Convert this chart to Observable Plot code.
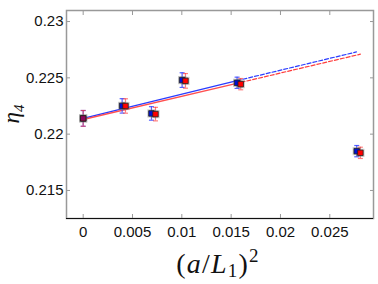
<!DOCTYPE html>
<html>
<head>
<meta charset="utf-8">
<script src="https://cdn.jsdelivr.net/npm/d3@7"></script>
<script src="https://cdn.jsdelivr.net/npm/@observablehq/plot@0.6"></script>
<style>
  html, body { margin: 0; padding: 0; background: #fff; }
  #chart svg { display: block; }
</style>
</head>
<body>
<div id="chart"></div>
<script>
// Data
const xBlue = [0, 0.00395, 0.00692, 0.01003, 0.0156, 0.02773];
const yBlue = [0.2214, 0.22251, 0.22184, 0.2248, 0.22456, 0.21849];
const eBlue = [0.0007, 0.00064, 0.0006, 0.00065, 0.0005, 0.0005];

const xRed = [0, 0.00429, 0.00733, 0.01037, 0.01597, 0.0281];
const yRed = [0.2214, 0.2225, 0.22178, 0.22473, 0.22444, 0.21834];
const eRed = [0.0007, 0.00064, 0.0006, 0.00065, 0.0005, 0.0005];

const fitXBlue = [0, 0.0156, 0.0277];
const fitYBlue = [0.2214, 0.22475, 0.2273];
const fitXRed = [0, 0.016, 0.0281];
const fitYRed = [0.2213, 0.2246, 0.2271];

const xTicks = [0, 0.005, 0.01, 0.015, 0.02, 0.025];
const xTickLabels = ["0", "0.005", "0.01", "0.015", "0.02", "0.025"];
const yTicks = [0.215, 0.22, 0.225, 0.23];
const yTickLabels = ["0.215", "0.22", "0.225", "0.23"];

const xDomain = [-0.00169, 0.02943];
const yDomain = [0.21251, 0.23098];

const blue = xBlue.map((x, i) => ({x, y: yBlue[i], e: eBlue[i]}));
const red = xRed.map((x, i) => ({x, y: yRed[i], e: eRed[i]}));
const fitB = fitXBlue.map((x, i) => ({x, y: fitYBlue[i], seg: i}));
const fitR = fitXRed.map((x, i) => ({x, y: fitYRed[i], seg: i}));

const cap = {draw(ctx, size) { const w = Math.sqrt(size); ctx.moveTo(-w / 2, 0); ctx.lineTo(w / 2, 0); }};
const capR = 5 / Math.sqrt(Math.PI);

const BLUE_BAR = "#3a46ff", RED_BAR = "#ff3a3a";
const BLUE_LINE = "#2a3cff", RED_LINE = "#ff3c3c";

function errMarks(data, color, opacity) {
  return [
    Plot.ruleX(data, {x: "x", y1: d => d.y - d.e, y2: d => d.y + d.e, stroke: color, strokeWidth: 1.2, strokeOpacity: opacity}),
    Plot.dot(data, {x: "x", y: d => d.y + d.e, symbol: cap, r: capR, stroke: color, fill: "none", strokeWidth: 1.2, strokeOpacity: opacity}),
    Plot.dot(data, {x: "x", y: d => d.y - d.e, symbol: cap, r: capR, stroke: color, fill: "none", strokeWidth: 1.2, strokeOpacity: opacity})
  ];
}
const halo = data => Plot.dot(data, {x: "x", y: "y", symbol: "square", r: 4.6, fill: "#777", fillOpacity: 0.4, stroke: "none"});
const marker = (data, color, opacity) =>
  Plot.dot(data, {x: "x", y: "y", symbol: "square", r: 3.1, fill: color, fillOpacity: opacity, stroke: "#222", strokeWidth: 0.8});

const chart = Plot.plot({
  width: 378,
  height: 284,
  marginLeft: 66,
  marginRight: 5,
  marginTop: 10,
  marginBottom: 66,
  style: {fontFamily: "'Liberation Sans', Arial, sans-serif", fontSize: "15px", background: "#fff"},
  x: {domain: xDomain},
  y: {domain: yDomain},
  marks: [
    Plot.frame({stroke: "#999", strokeWidth: 1.5}),
    Plot.ruleY([yDomain[0]], {stroke: "#111", strokeWidth: 1.2}),
    // inward ticks on all four sides
    Plot.axisX(xTicks, {anchor: "bottom", tickSize: 4, dy: -4, tickFormat: () => "", label: null, stroke: "#999"}),
    Plot.axisX(xTicks, {anchor: "top", tickSize: 4, dy: 4, tickFormat: () => "", label: null, stroke: "#999"}),
    Plot.axisY(yTicks, {anchor: "left", tickSize: 4, dx: 4, tickFormat: () => "", label: null, stroke: "#999"}),
    Plot.axisY(yTicks, {anchor: "right", tickSize: 4, dx: -4, tickFormat: () => "", label: null, stroke: "#999"}),
    // tick labels
    Plot.axisX(xTicks, {anchor: "bottom", tickSize: 0, tickPadding: 8, tickFormat: d => xTickLabels[xTicks.indexOf(d)], label: null, fontSize: 15, fill: "#111"}),
    Plot.axisY(yTicks, {anchor: "left", tickSize: 0, tickPadding: 3, tickFormat: d => yTickLabels[yTicks.indexOf(d)], label: null, fontSize: 15, fill: "#111"}),
    // fit lines
    Plot.line(fitB.filter(d => d.seg <= 1), {x: "x", y: "y", stroke: BLUE_LINE, strokeWidth: 1.4}),
    Plot.line(fitB.filter(d => d.seg >= 1), {x: "x", y: "y", stroke: BLUE_LINE, strokeWidth: 1.2, strokeDasharray: "4,2"}),
    Plot.line(fitR.filter(d => d.seg <= 1), {x: "x", y: "y", stroke: RED_LINE, strokeWidth: 1.4, strokeOpacity: 0.9}),
    Plot.line(fitR.filter(d => d.seg >= 1), {x: "x", y: "y", stroke: RED_LINE, strokeWidth: 1.2, strokeDasharray: "4,2"}),
    // error bars and markers
    ...errMarks(blue, BLUE_BAR, 0.85),
    ...errMarks(red, RED_BAR, 0.65),
    halo(blue),
    halo(red),
    marker(blue, "#0010d0", 1),
    marker(red, "#ff0000", d => d.x === 0 ? 0.55 : 1)
  ]
});

const svg = d3.select(chart);
// x-axis label (a/L1)^2
const xl = svg.append("text")
  .attr("x", 218).attr("y", 273)
  .attr("text-anchor", "middle")
  .attr("font-family", "'Liberation Serif', 'DejaVu Serif', serif")
  .attr("font-size", 28)
  .attr("letter-spacing", 1.2)
  .attr("fill", "#111");
xl.append("tspan").text("(");
xl.append("tspan").attr("font-style", "italic").text("a");
xl.append("tspan").text("/");
xl.append("tspan").attr("font-style", "italic").text("L");
xl.append("tspan").attr("font-size", 19).attr("dy", 4).text("1");
xl.append("tspan").attr("dy", -4).text(")");
xl.append("tspan").attr("font-size", 19).attr("dy", -11).text("2");

// y-axis label eta_4
const yl = svg.append("text")
  .attr("transform", "translate(19,114) rotate(-90)")
  .attr("text-anchor", "middle")
  .attr("font-family", "'Liberation Serif', 'DejaVu Serif', serif")
  .attr("font-size", 23)
  .attr("fill", "#111");
yl.append("tspan").attr("font-style", "italic").text("η");
yl.append("tspan").attr("font-size", 15).attr("dy", 5).attr("font-style", "italic").text("4");

document.getElementById("chart").appendChild(chart);
</script>
</body>
</html>
